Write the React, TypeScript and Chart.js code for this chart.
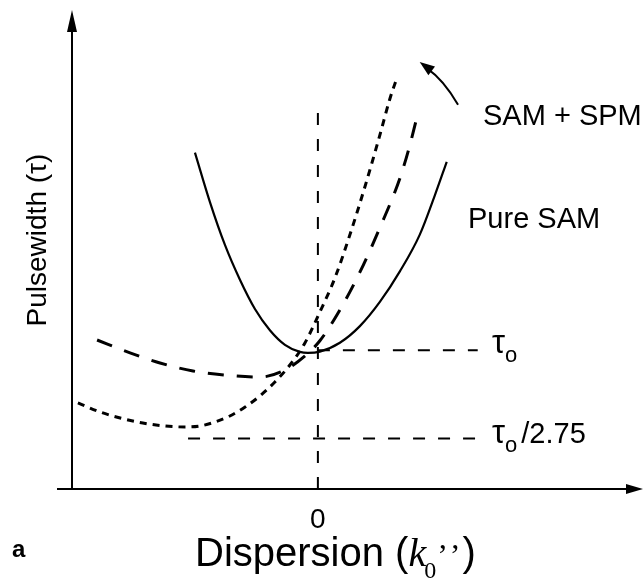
import React, { useEffect, useRef } from "react";
import { Chart, registerables } from "chart.js";

Chart.register(...registerables);

// ---- data (arbitrary units: x = dispersion, y = pulsewidth) ----
const pureSamX = [-2.5, -2.195, -1.89, -1.585, -1.28, -0.976, -0.67, -0.366, -0.203, 0.04, 0.447, 0.854, 1.26, 1.67, 2.07, 2.38, 2.62];
const pureSamY = [6.67, 5.69, 4.84, 4.15, 3.57, 3.15, 2.86, 2.72, 2.7, 2.725, 2.9, 3.23, 3.71, 4.32, 5.04, 5.83, 6.49];

const samSpmLongX = [-4.49, -3.82, -3.21, -2.54, -1.89, -1.18, -0.67, -0.26, 0.04, 0.447, 0.854, 1.26, 1.67, 1.87, 2.01];
const samSpmLongY = [2.955, 2.7, 2.5, 2.34, 2.26, 2.22, 2.36, 2.64, 2.94, 3.55, 4.3, 5.18, 6.17, 6.82, 7.36];

const samSpmShortX = [-4.88, -4.43, -4.02, -3.56, -3.11, -2.7, -2.4, -2.09, -1.79, -1.48, -1.18, -0.874, -0.569, -0.264, 0.04, 0.346, 0.65, 0.955, 1.26, 1.463, 1.606];
const samSpmShortY = [1.706, 1.527, 1.408, 1.309, 1.249, 1.23, 1.249, 1.329, 1.448, 1.626, 1.845, 2.122, 2.459, 2.896, 3.51, 4.185, 5.04, 5.99, 7.02, 7.735, 8.15];

const tau0Value = 2.75;
const tau0LineX = [0, 3.25];
const tauReducedValue = 1; // tau0 / 2.75
const tauReducedLineX = [-2.64, 3.25];
const zeroLineY = [0, 7.46];

const xTickValues = [0];
const xTickLabels = ["0"];

const X_MIN = -5;
const X_MAX = 6.55;
const Y_MIN = 0;
const Y_MAX = 9.5;

const SANS = '"Liberation Sans", Arial, sans-serif';
const SERIF = '"Liberation Serif", "Times New Roman", serif';

function pts(xs: number[], ys: number[]) {
  return xs.map((x, i) => ({ x, y: ys[i] }));
}

const decorPlugin = {
  id: "decor",
  afterDraw(chart: any) {
    const ctx: CanvasRenderingContext2D = chart.ctx;
    const xs = chart.scales.x;
    const ys = chart.scales.y;
    const px = (v: number) => xs.getPixelForValue(v);
    const py = (v: number) => ys.getPixelForValue(v);
    const ca = chart.chartArea;

    ctx.save();
    ctx.strokeStyle = "#000";
    ctx.fillStyle = "#000";
    ctx.setLineDash([]);
    ctx.lineWidth = 2;

    // axes
    const ox = px(X_MIN);
    const oy = py(Y_MIN);
    ctx.beginPath();
    ctx.moveTo(ox, oy + 1);
    ctx.lineTo(ox, ca.top + 18);
    ctx.stroke();
    ctx.beginPath();
    ctx.moveTo(ox - 15, oy);
    ctx.lineTo(ca.right - 10, oy);
    ctx.stroke();
    // y arrow head
    ctx.beginPath();
    ctx.moveTo(ox, ca.top);
    ctx.lineTo(ox - 5, ca.top + 22);
    ctx.lineTo(ox + 5, ca.top + 22);
    ctx.closePath();
    ctx.fill();
    // x arrow head
    ctx.beginPath();
    ctx.moveTo(ca.right + 3, oy);
    ctx.lineTo(ca.right - 14, oy - 5);
    ctx.lineTo(ca.right - 14, oy + 5);
    ctx.closePath();
    ctx.fill();

    // curved arrow (from SAM+SPM label toward steeper curves)
    const tx = px(2.85), ty = py(7.62);
    const cx = px(2.55), cy = py(8.12);
    const hx = px(2.07), hy = py(8.47);
    ctx.lineWidth = 2;
    ctx.beginPath();
    ctx.moveTo(tx, ty);
    ctx.quadraticCurveTo(cx, cy, hx + 8, hy + 7);
    ctx.stroke();
    const ang = Math.atan2(hy - cy, hx - cx);
    const L = 15, W = 5.5;
    ctx.beginPath();
    ctx.moveTo(hx, hy);
    ctx.lineTo(hx - L * Math.cos(ang) + W * Math.sin(ang), hy - L * Math.sin(ang) - W * Math.cos(ang));
    ctx.lineTo(hx - L * Math.cos(ang) - W * Math.sin(ang), hy - L * Math.sin(ang) + W * Math.cos(ang));
    ctx.closePath();
    ctx.fill();

    // texts
    ctx.textBaseline = "alphabetic";
    ctx.textAlign = "left";
    ctx.font = `29px ${SANS}`;
    ctx.fillText("SAM + SPM", 483, 125);
    ctx.fillText("Pure SAM", 468, 228);

    // tau labels
    const tauLabel = (x: number, yBase: number, suffix: string) => {
      ctx.font = `33px ${SANS}`;
      ctx.fillText("τ", x, yBase);
      const w = ctx.measureText("τ").width;
      ctx.font = `22px ${SANS}`;
      ctx.fillText("o", x + w, yBase + 9);
      const w2 = ctx.measureText("o").width;
      if (suffix) {
        ctx.font = `29px ${SANS}`;
        ctx.fillText(suffix, x + w + w2 + 4, yBase);
      }
    };
    tauLabel(492, py(tau0Value) + 3, "");
    tauLabel(492, py(tauReducedValue) + 4, "/2.75");

    // x tick labels
    ctx.textAlign = "center";
    ctx.font = `28px ${SANS}`;
    xTickValues.forEach((v, i) => ctx.fillText(xTickLabels[i], px(v), 528));

    // panel letter
    ctx.textAlign = "left";
    ctx.font = `bold 24px ${SANS}`;
    ctx.fillText("a", 12, 557);

    // x title: Dispersion (k0'')
    let x = 195;
    const base = 566;
    ctx.font = `40px ${SANS}`;
    ctx.fillText("Dispersion (", x, base);
    x += ctx.measureText("Dispersion (").width;
    ctx.font = `italic 40px ${SERIF}`;
    ctx.fillText("k", x, base);
    x += ctx.measureText("k").width - 2;
    ctx.font = `24px ${SERIF}`;
    ctx.fillText("0", x, base + 12);
    x += ctx.measureText("0").width + 1;
    ctx.font = `32px ${SERIF}`;
    ctx.fillText("’", x, base);
    x += ctx.measureText("’").width + 2;
    ctx.fillText("’", x, base);
    x += ctx.measureText("’").width + 2;
    ctx.font = `40px ${SANS}`;
    ctx.fillText(")", x, base);

    // y title
    ctx.save();
    ctx.translate(46, 240);
    ctx.rotate(-Math.PI / 2);
    ctx.textAlign = "center";
    ctx.font = `28px ${SANS}`;
    ctx.fillText("Pulsewidth (τ)", 0, 0);
    ctx.restore();

    ctx.restore();
  },
};

export default function App() {
  const ref = useRef<HTMLCanvasElement>(null);
  useEffect(() => {
    if (!ref.current) return;
    const chart = new Chart(ref.current, {
      type: "scatter",
      data: {
        datasets: [
          {
            label: "Pure SAM",
            data: pts(pureSamX, pureSamY),
            showLine: true,
            borderColor: "#000",
            borderWidth: 2.2,
            pointRadius: 0,
            cubicInterpolationMode: "monotone",
          },
          {
            label: "SAM + SPM (weak)",
            data: pts(samSpmLongX, samSpmLongY),
            showLine: true,
            borderColor: "#000",
            borderWidth: 3,
            borderDash: [16, 13],
            pointRadius: 0,
            cubicInterpolationMode: "monotone",
          },
          {
            label: "SAM + SPM (strong)",
            data: pts(samSpmShortX, samSpmShortY),
            showLine: true,
            borderColor: "#000",
            borderWidth: 3,
            borderDash: [7, 6],
            pointRadius: 0,
            cubicInterpolationMode: "monotone",
          },
          {
            label: "tau0",
            data: tau0LineX.map((x) => ({ x, y: tau0Value })),
            showLine: true,
            borderColor: "#000",
            borderWidth: 2,
            borderDash: [12, 13],
            pointRadius: 0,
          },
          {
            label: "tau0/2.75",
            data: tauReducedLineX.map((x) => ({ x, y: tauReducedValue })),
            showLine: true,
            borderColor: "#000",
            borderWidth: 2,
            borderDash: [12, 13],
            pointRadius: 0,
          },
          {
            label: "zero",
            data: zeroLineY.map((y) => ({ x: 0, y })),
            showLine: true,
            borderColor: "#000",
            borderWidth: 2,
            borderDash: [12, 14],
            pointRadius: 0,
          },
        ],
      },
      options: {
        animation: false,
        responsive: false,
        events: [],
        layout: { padding: { left: 72, right: 4, top: 10, bottom: 95 } },
        plugins: { legend: { display: false }, tooltip: { enabled: false } },
        scales: {
          x: { type: "linear", min: X_MIN, max: X_MAX, display: false },
          y: { type: "linear", min: Y_MIN, max: Y_MAX, display: false },
        },
      },
      plugins: [decorPlugin],
    } as any);
    return () => chart.destroy();
  }, []);
  return (
    <div style={{ position: "fixed", left: 0, top: 0, width: 644, height: 584, background: "#fff" }}>
      <canvas ref={ref} width={644} height={584} style={{ width: 644, height: 584 }} />
    </div>
  );
}
